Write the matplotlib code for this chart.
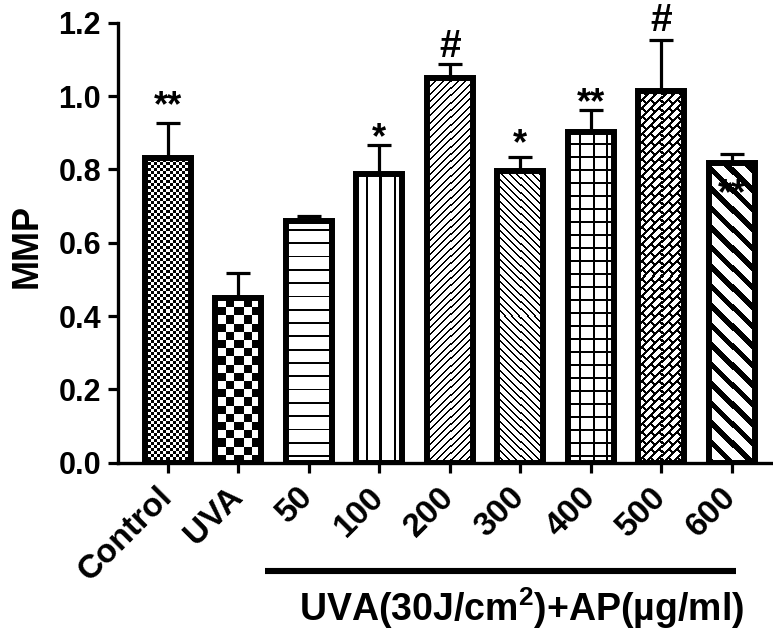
import numpy as np
import matplotlib
matplotlib.use("Agg")
import matplotlib.pyplot as plt
from matplotlib.transforms import blended_transform_factory, ScaledTranslation

plt.rcParams['font.family'] = ['Liberation Sans', 'DejaVu Sans']
plt.rcParams['font.weight'] = 'bold'
plt.rcParams['mathtext.fontset'] = 'custom'
plt.rcParams['mathtext.rm'] = 'Liberation Sans:bold'
plt.rcParams['mathtext.bf'] = 'Liberation Sans:bold'
plt.rcParams['mathtext.default'] = 'bf'

# ---- data ----
categories = ['Control', 'UVA', '50', '100', '200', '300', '400', '500', '600']
values = [0.830, 0.449, 0.659, 0.788, 1.050, 0.795, 0.902, 1.013, 0.817]
errors = [0.097, 0.069, 0.015, 0.078, 0.036, 0.040, 0.061, 0.140, 0.026]
sig_labels = ['**', '', '', '*', '#', '*', '**', '#', '**']
sig_y = [0.972, 0, 0, 0.885, 1.135, 0.868, 0.978, 1.205, 0.730]
patterns = ['checker_fine', 'checker_big', 'hlines', 'vlines', 'fdiag',
            'bdiag', 'grid', 'brick', 'thick_bdiag']
y_ticks = [0.0, 0.2, 0.4, 0.6, 0.8, 1.0, 1.2]
y_label = 'MMP'
group_label = r'UVA(30J/cm$^{2}$)+AP(µg/ml)'
group_first, group_last = 2, 8

fig = plt.figure(figsize=(7.73, 6.32), dpi=100)
ax = fig.add_axes([0.1527, 0.2679, 0.8473, 0.6962])
x = np.arange(len(categories))
ax.set_xlim(-0.705, 8.586)
ax.set_ylim(0, 1.2)

bar_w = 0.655
edge_lw = 4.3

base = ax.bar(x, values, width=bar_w, color='white', edgecolor='none', zorder=2)


def make_pattern(kind, w, h):
    X, Y = np.meshgrid(np.arange(w) + 0.5, np.arange(h) + 0.5)
    if kind == 'checker_fine':
        c = 3.0
        m = ((np.floor(X / c) + np.floor(Y / c)) % 2) == 0
    elif kind == 'checker_big':
        c = 8.2
        m = ((np.floor((X - 3) / c) + np.floor(Y / c)) % 2) == 0
    elif kind == 'hlines':
        m = ((Y - 6) % 13.3) < 1.8
    elif kind == 'vlines':
        m = ((X - 10) % 13.5) < 2.0
    elif kind == 'fdiag':
        m = ((Y - X) % 7.3) < 2.0
    elif kind == 'bdiag':
        m = ((Y + X) % 7.3) < 2.0
    elif kind == 'grid':
        m = (((Y - 6) % 13.0) < 2.0) | (((X - 11) % 13.0) < 2.0)
    elif kind == 'brick':
        P, L = 8.5, 17.0
        r = np.floor((Y - X) / P)
        m = (((Y - X) % P) < 2.8) | (((X + Y + (r % 2) * L / 2) % L) < 2.8)
    elif kind == 'thick_bdiag':
        m = ((Y + X) % 19.5) < 7.5
    else:
        m = np.zeros_like(X, dtype=bool)
    return m.astype(float)


fig.canvas.draw()
for rect, kind in zip(base.patches, patterns):
    x0, y0 = rect.get_x(), rect.get_y()
    x1, y1 = x0 + rect.get_width(), y0 + rect.get_height()
    (px0, py0), (px1, py1) = ax.transData.transform([(x0, y0), (x1, y1)])
    w = max(int(round(px1 - px0)), 1)
    h = max(int(round(py1 - py0)), 1)
    img = make_pattern(kind, w, h)
    im = ax.imshow(img, cmap='gray_r', vmin=0, vmax=1, origin='lower',
                   extent=(x0, x1, y0, y1), aspect='auto',
                   interpolation='nearest', zorder=3)
    im.set_clip_path(rect)

ax.errorbar(x, values, yerr=[np.zeros(len(values)), errors], fmt='none',
            ecolor='black', elinewidth=2.3, capsize=8.5, capthick=2.3, zorder=3.5)

ax.bar(x, values, width=bar_w, facecolor='none', edgecolor='black',
       linewidth=edge_lw, zorder=4)

ax.set_xlim(-0.705, 8.586)
ax.set_ylim(0, 1.2)

for xi, lab, yy in zip(x, sig_labels, sig_y):
    if lab:
        fs = 28 if lab == '#' else 26
        ax.text(xi, yy, lab, ha='center', va='center', fontsize=fs,
                fontweight='bold', zorder=6)

for side in ['top', 'right']:
    ax.spines[side].set_visible(False)
ax.spines['left'].set_linewidth(2.4)
ax.spines['bottom'].set_linewidth(2.4)
ax.spines['bottom'].set_zorder(5)

ax.set_yticks(y_ticks)
ax.set_yticklabels([f'{t:.1f}' for t in y_ticks], fontsize=22, fontweight='bold')
ax.set_xticks(x)
ax.set_xticklabels(categories, fontsize=24, fontweight='bold', rotation=45,
                   ha='right', va='center', rotation_mode='anchor')
shift = ScaledTranslation(7 / 100, -3 / 100, fig.dpi_scale_trans)
for lbl in ax.get_xticklabels():
    lbl.set_transform(lbl.get_transform() + shift)
ax.tick_params(axis='both', direction='out', length=7.2, width=2.3, pad=5)
ax.tick_params(axis='x', pad=14)
ax.set_ylabel(y_label, fontsize=26, fontweight='bold')
ax.yaxis.set_label_coords(-0.112, 0.4925)

trans = blended_transform_factory(ax.transData, ax.transAxes)
ax.plot([group_first - 0.62, group_last + 0.06], [-0.246, -0.246], color='black',
        linewidth=4.4, solid_capstyle='butt', transform=trans, clip_on=False)
ax.text((group_first + group_last) / 2 + 0.02, -0.33, group_label, transform=trans,
        ha='center', va='center', fontsize=27, fontweight='bold')

fig.savefig('out.png', dpi=100)
